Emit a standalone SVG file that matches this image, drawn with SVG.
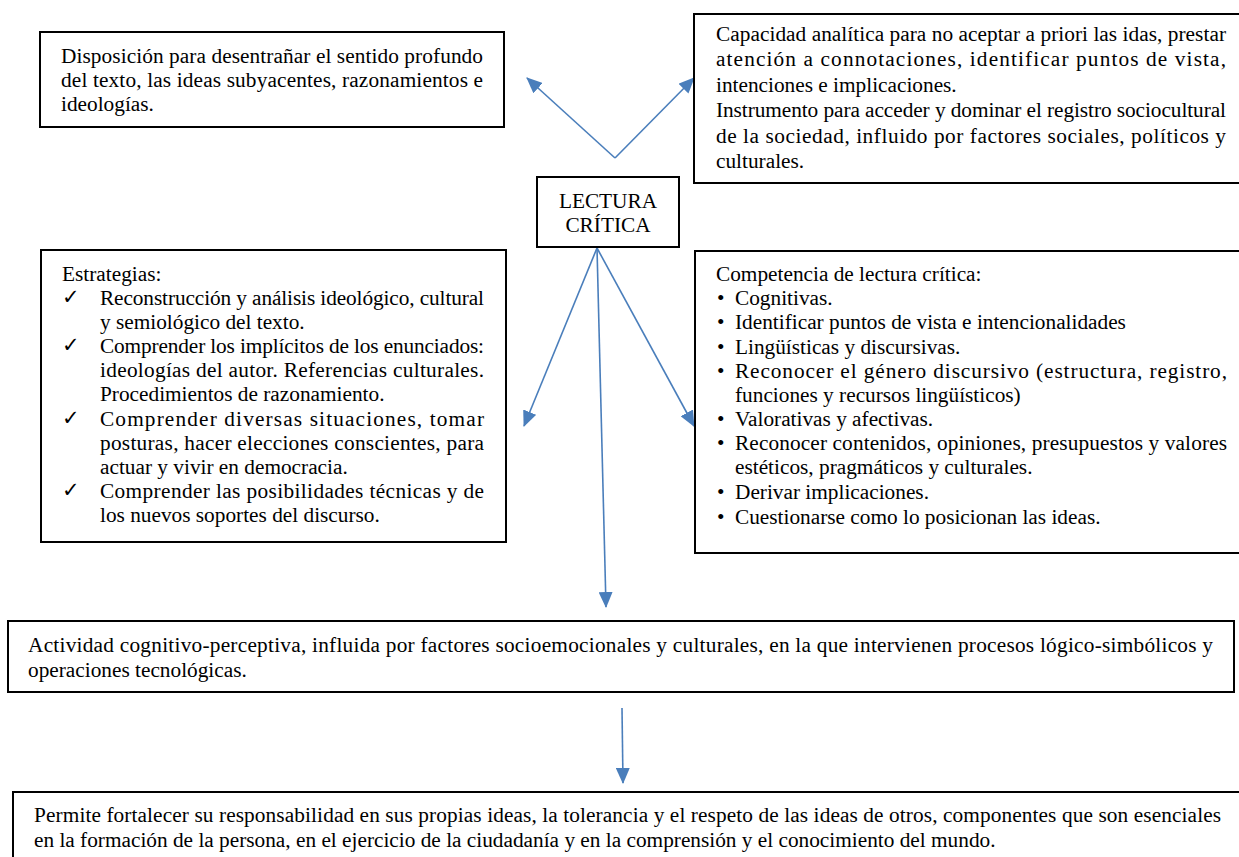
<svg xmlns="http://www.w3.org/2000/svg" width="1239" height="857" viewBox="0 0 1239 857">
<style>
.box{fill:#fff;stroke:#000;stroke-width:2}
text{font-family:"Liberation Serif","Times New Roman",serif;font-size:21.3px;fill:#000}
.c{text-anchor:middle}
.chk{font-family:"DejaVu Sans",sans-serif;font-size:21px;font-weight:bold}
.con{stroke:#4A7EBB;stroke-width:1.6;fill:none;marker-end:url(#ah)}
</style>
<defs>
<marker id="ah" markerUnits="userSpaceOnUse" markerWidth="16" markerHeight="14" viewBox="0 0 16 14" refX="15" refY="7" orient="auto">
<path d="M0,0 L16,7 L0,14 z" fill="#4A7EBB"/>
</marker>
</defs>
<rect width="1239" height="857" fill="#fff"/>
<g id="connectors">
<line class="con" x1="615" y1="158" x2="527" y2="78"/>
<line class="con" x1="615" y1="158" x2="694" y2="78"/>
<line class="con" x1="597" y1="248" x2="524" y2="426"/>
<line class="con" x1="597" y1="248" x2="694" y2="426"/>
<line class="con" x1="597" y1="248" x2="606" y2="607"/>
<line class="con" x1="622" y1="708" x2="623" y2="783"/>
</g>
<g id="node-disposicion">
<rect class="box" x="40" y="32" width="464" height="95"/>
<text x="61" y="63" textLength="422" lengthAdjust="spacing">Disposición para desentrañar el sentido profundo</text>
<text x="61" y="87" textLength="422" lengthAdjust="spacing">del texto, las ideas subyacentes, razonamientos e</text>
<text x="61" y="111">ideologías.</text>
</g>
<g id="node-capacidad">
<rect class="box" x="694" y="14" width="560" height="169"/>
<text x="716" y="41" textLength="510" lengthAdjust="spacing">Capacidad analítica para no aceptar a priori las idas, prestar</text>
<text x="716" y="66" textLength="510" lengthAdjust="spacing">atención a connotaciones, identificar puntos de vista,</text>
<text x="716" y="92">intenciones e implicaciones.</text>
<text x="716" y="117" textLength="510" lengthAdjust="spacing">Instrumento para acceder y dominar el registro sociocultural</text>
<text x="716" y="143" textLength="510" lengthAdjust="spacing">de la sociedad, influido por factores sociales, políticos y</text>
<text x="716" y="168">culturales.</text>
</g>
<g id="node-lectura">
<rect class="box" x="537" y="177" width="142" height="70"/>
<text class="c" x="608" y="208">LECTURA</text>
<text class="c" x="608" y="232">CRÍTICA</text>
</g>
<g id="node-estrategias">
<rect class="box" x="41" y="250" width="465" height="292"/>
<text x="62" y="281">Estrategias:</text>
<text class="chk" x="62" y="304">✓</text>
<text x="100" y="305" textLength="384" lengthAdjust="spacing">Reconstrucción y análisis ideológico, cultural</text>
<text x="100" y="329">y semiológico del texto.</text>
<text class="chk" x="62" y="352">✓</text>
<text x="100" y="353" textLength="384" lengthAdjust="spacing">Comprender los implícitos de los enunciados:</text>
<text x="100" y="377" textLength="384" lengthAdjust="spacing">ideologías del autor. Referencias culturales.</text>
<text x="100" y="401">Procedimientos de razonamiento.</text>
<text class="chk" x="62" y="425">✓</text>
<text x="100" y="426" textLength="384" lengthAdjust="spacing">Comprender diversas situaciones, tomar</text>
<text x="100" y="450" textLength="384" lengthAdjust="spacing">posturas, hacer elecciones conscientes, para</text>
<text x="100" y="474">actuar y vivir en democracia.</text>
<text class="chk" x="62" y="497">✓</text>
<text x="100" y="498" textLength="384" lengthAdjust="spacing">Comprender las posibilidades técnicas y de</text>
<text x="100" y="522">los nuevos soportes del discurso.</text>
</g>
<g id="node-competencia">
<rect class="box" x="695" y="251" width="560" height="302"/>
<text x="716" y="281">Competencia de lectura crítica:</text>
<text x="717" y="305">•</text><text x="735" y="305">Cognitivas.</text>
<text x="717" y="329">•</text><text x="735" y="329">Identificar puntos de vista e intencionalidades</text>
<text x="717" y="354">•</text><text x="735" y="354">Lingüísticas y discursivas.</text>
<text x="717" y="378">•</text><text x="735" y="378" textLength="492" lengthAdjust="spacing">Reconocer el género discursivo (estructura, registro,</text>
<text x="735" y="402">funciones y recursos lingüísticos)</text>
<text x="717" y="426">•</text><text x="735" y="426">Valorativas y afectivas.</text>
<text x="717" y="450">•</text><text x="735" y="450" textLength="492" lengthAdjust="spacing">Reconocer contenidos, opiniones, presupuestos y valores</text>
<text x="735" y="474">estéticos, pragmáticos y culturales.</text>
<text x="717" y="499">•</text><text x="735" y="499">Derivar implicaciones.</text>
<text x="717" y="524">•</text><text x="735" y="524">Cuestionarse como lo posicionan las ideas.</text>
</g>
<g id="node-actividad">
<rect class="box" x="8" y="621" width="1226" height="71"/>
<text x="28" y="652" textLength="1185" lengthAdjust="spacing">Actividad cognitivo-perceptiva, influida por factores socioemocionales y culturales, en la que intervienen procesos lógico-simbólicos y</text>
<text x="28" y="677">operaciones tecnológicas.</text>
</g>
<g id="node-permite">
<rect class="box" x="13" y="792" width="1240" height="80"/>
<text x="34" y="822" textLength="1187" lengthAdjust="spacing">Permite fortalecer su responsabilidad en sus propias ideas, la tolerancia y el respeto de las ideas de otros, componentes que son esenciales</text>
<text x="34" y="847">en la formación de la persona, en el ejercicio de la ciudadanía y en la comprensión y el conocimiento del mundo.</text>
</g>
</svg>
